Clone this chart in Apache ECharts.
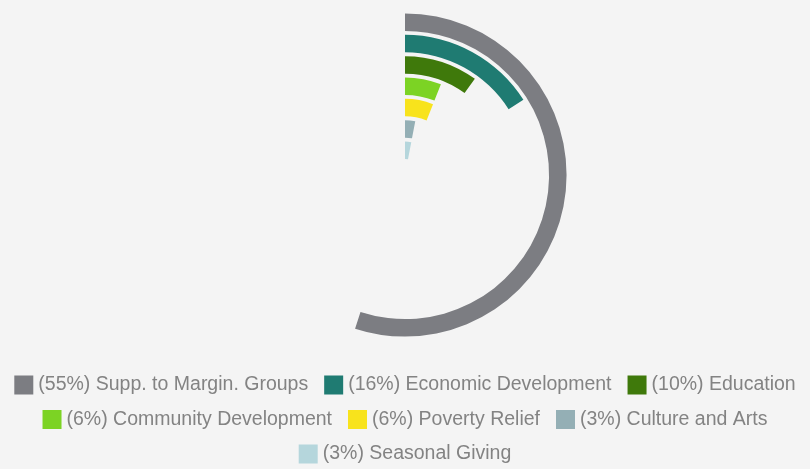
<!DOCTYPE html>
<html><head><meta charset="utf-8">
<script src="https://cdn.jsdelivr.net/npm/echarts@6/dist/echarts.min.js"></script>
<style>html,body{margin:0;padding:0;background:#f4f4f4}#c{width:810px;height:469px}</style>
</head><body><div id="c"></div>
<script>
const categories = ['Supp. to Margin. Groups','Economic Development','Education','Community Development','Poverty Relief','Culture and Arts','Seasonal Giving'];
const percents = [55,16,10,6,6,3,3];
const colors = ['#7c7d82','#1f7b72','#3f790b','#7cd324','#f8e31c','#94afb5','#b5d6dc'];
const legendRows = [[0,1,2],[3,4,5],[6]];

const names = categories.map((c,i)=>'(' + percents[i] + '%) ' + c);
const series = categories.map((c,i)=>({
  type:'bar', coordinateSystem:'polar', name:names[i],
  data: categories.map((_,j)=> j===i ? percents[i] : 0),
  stack:'all',
  barWidth:17.5,
  itemStyle:{color:colors[i]},
  silent:true
}));
const legendTops = [370,404.5,439];
const chart = echarts.init(document.getElementById('c'));
chart.setOption({
  backgroundColor:'#f4f4f4',
  animation:false,
  polar:{center:[405,175],radius:[14,163.5]},
  angleAxis:{type:'value',min:0,max:100,startAngle:90,clockwise:true,show:false},
  radiusAxis:{type:'category',data:categories,inverse:true,show:false},
  legend: legendRows.map((r,k)=>({
    data:r.map(i=>names[i]), left:'center', top:legendTops[k],
    itemWidth:19,itemHeight:19,itemGap:16,icon:'rect',
    textStyle:{fontSize:19.5,color:'#838383',fontFamily:'Liberation Sans, Arial, sans-serif'}
  })),
  series
});
</script></body></html>
